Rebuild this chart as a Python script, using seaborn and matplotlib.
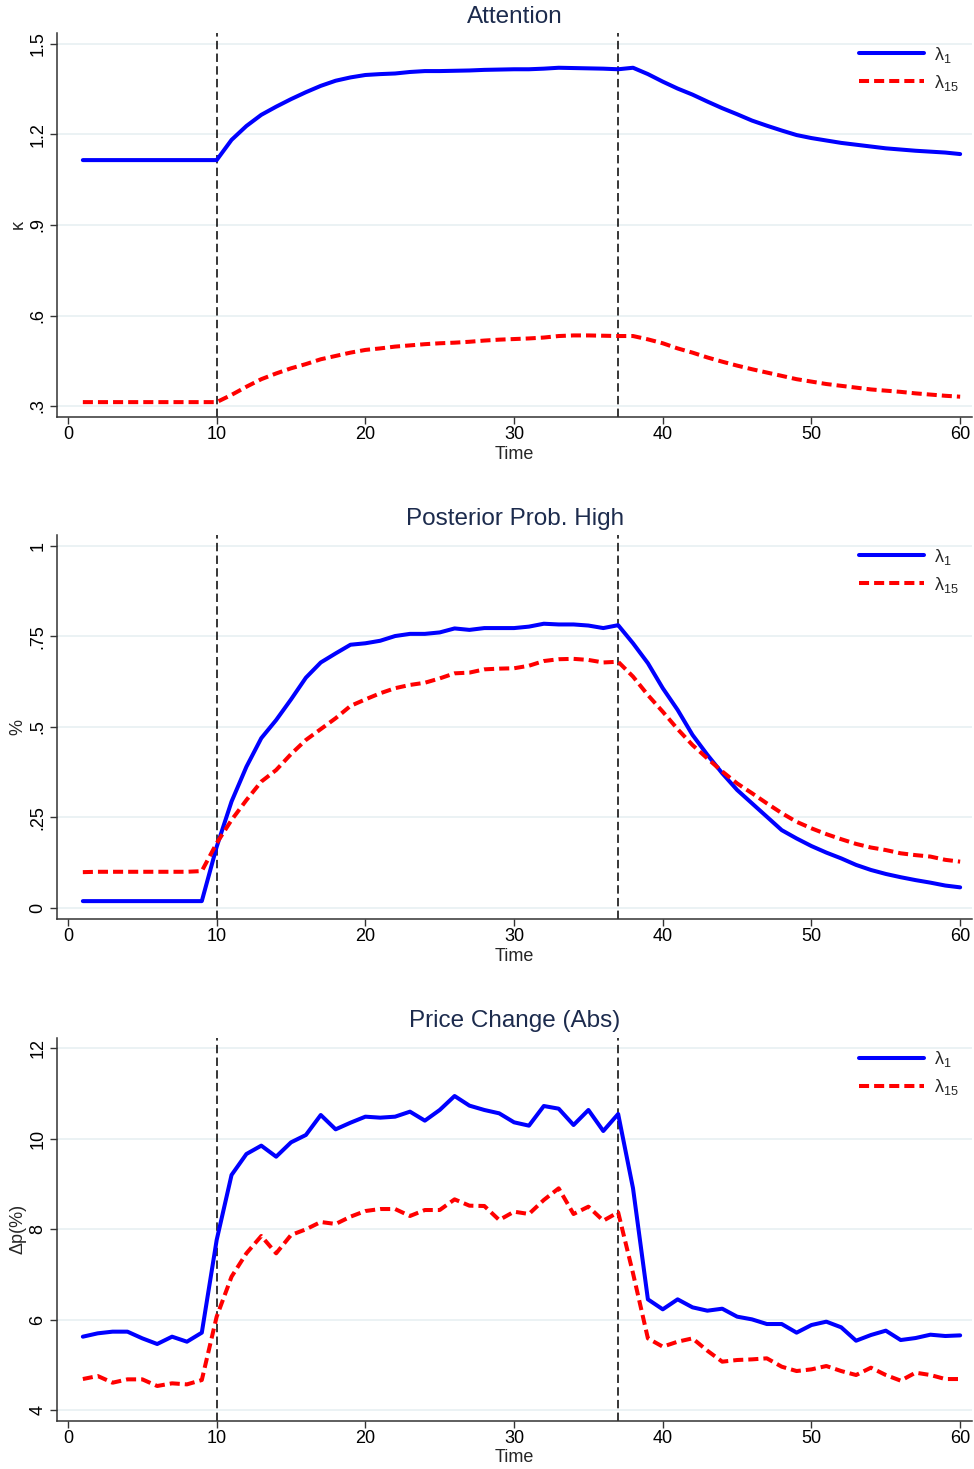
import matplotlib
matplotlib.use("Agg")
import matplotlib.pyplot as plt
import numpy as np
import pandas as pd
import seaborn as sns

# ---- data -------------------------------------------------------------
time = list(range(1, 61))
event_start = 10
event_end = 37

attention_l1 = [
    1.115, 1.115, 1.115, 1.115, 1.115, 1.115, 1.115, 1.115, 1.115, 1.115,
    1.182, 1.228, 1.265, 1.292, 1.317, 1.340, 1.361, 1.378, 1.389, 1.397,
    1.400, 1.402, 1.407, 1.410, 1.410, 1.411, 1.412, 1.414, 1.415, 1.416,
    1.416, 1.418, 1.421, 1.420, 1.419, 1.418, 1.416, 1.421, 1.400, 1.375,
    1.352, 1.332, 1.309, 1.287, 1.267, 1.246, 1.229, 1.213, 1.198, 1.188,
    1.180, 1.172, 1.166, 1.160, 1.154, 1.150, 1.146, 1.143, 1.140, 1.135,
]
attention_l15 = [
    0.313, 0.313, 0.313, 0.313, 0.313, 0.313, 0.313, 0.313, 0.313, 0.313,
    0.337, 0.364, 0.389, 0.408, 0.425, 0.439, 0.455, 0.466, 0.477, 0.486,
    0.491, 0.497, 0.501, 0.505, 0.508, 0.510, 0.513, 0.517, 0.520, 0.522,
    0.524, 0.527, 0.532, 0.534, 0.534, 0.533, 0.532, 0.532, 0.521, 0.508,
    0.491, 0.477, 0.461, 0.447, 0.434, 0.422, 0.411, 0.400, 0.389, 0.381,
    0.373, 0.367, 0.361, 0.355, 0.351, 0.347, 0.342, 0.338, 0.334, 0.331,
]
posterior_l1 = [
    0.019, 0.019, 0.019, 0.019, 0.019, 0.019, 0.019, 0.019, 0.019, 0.169,
    0.294, 0.390, 0.469, 0.519, 0.576, 0.636, 0.678, 0.703, 0.727, 0.731,
    0.738, 0.751, 0.757, 0.757, 0.761, 0.772, 0.768, 0.773, 0.773, 0.773,
    0.777, 0.785, 0.783, 0.783, 0.780, 0.773, 0.781, 0.731, 0.676, 0.607,
    0.547, 0.478, 0.423, 0.372, 0.326, 0.289, 0.252, 0.215, 0.192, 0.171,
    0.153, 0.137, 0.119, 0.105, 0.094, 0.085, 0.077, 0.070, 0.062, 0.057,
]
posterior_l15 = [
    0.099, 0.100, 0.100, 0.100, 0.100, 0.100, 0.100, 0.100, 0.102, 0.179,
    0.243, 0.298, 0.349, 0.381, 0.425, 0.464, 0.494, 0.524, 0.558, 0.576,
    0.593, 0.607, 0.616, 0.622, 0.634, 0.648, 0.650, 0.659, 0.661, 0.662,
    0.669, 0.682, 0.687, 0.688, 0.685, 0.678, 0.680, 0.639, 0.588, 0.542,
    0.494, 0.450, 0.413, 0.377, 0.344, 0.317, 0.289, 0.262, 0.238, 0.220,
    0.204, 0.190, 0.177, 0.167, 0.160, 0.151, 0.146, 0.142, 0.133, 0.128,
]
price_l1 = [
    5.621, 5.695, 5.732, 5.732, 5.584, 5.459, 5.621, 5.510, 5.710, 7.760,
    9.198, 9.662, 9.847, 9.603, 9.920, 10.083, 10.525, 10.208, 10.355, 10.488,
    10.466, 10.488, 10.599, 10.400, 10.636, 10.945, 10.732, 10.636, 10.562, 10.363,
    10.289, 10.724, 10.665, 10.304, 10.636, 10.171, 10.547, 8.903, 6.447, 6.226,
    6.447, 6.270, 6.196, 6.240, 6.064, 6.004, 5.901, 5.901, 5.710, 5.879,
    5.953, 5.828, 5.532, 5.658, 5.754, 5.547, 5.591, 5.665, 5.636, 5.650,
]
price_l15 = [
    4.684, 4.751, 4.603, 4.677, 4.677, 4.530, 4.589, 4.566, 4.662, 6.064,
    6.948, 7.465, 7.848, 7.465, 7.870, 7.996, 8.158, 8.114, 8.276, 8.401,
    8.445, 8.445, 8.291, 8.423, 8.423, 8.659, 8.519, 8.512, 8.202, 8.386,
    8.335, 8.645, 8.903, 8.335, 8.497, 8.187, 8.372, 7.022, 5.584, 5.400,
    5.510, 5.584, 5.311, 5.068, 5.105, 5.119, 5.142, 4.957, 4.861, 4.898,
    4.972, 4.861, 4.773, 4.935, 4.773, 4.648, 4.825, 4.773, 4.684, 4.684,
]

series_labels = [r"$\lambda_1$", r"$\lambda_{15}$"]
x_ticks = [0, 10, 20, 30, 40, 50, 60]

panels = [
    dict(title="Attention", ylabel="κ", l1=attention_l1, l15=attention_l15,
         yticks=[0.3, 0.6, 0.9, 1.2, 1.5], yticklabels=[".3", ".6", ".9", "1.2", "1.5"],
         ylim=(0.2645, 1.536)),
    dict(title="Posterior Prob. High", ylabel="%", l1=posterior_l1, l15=posterior_l15,
         yticks=[0, 0.25, 0.5, 0.75, 1], yticklabels=["0", ".25", ".5", ".75", "1"],
         ylim=(-0.0296, 1.030)),
    dict(title="Price Change (Abs)", ylabel="Δp(%)", l1=price_l1, l15=price_l15,
         yticks=[4, 6, 8, 10, 12], yticklabels=["4", "6", "8", "10", "12"],
         ylim=(3.763, 12.235)),
]

# ---- style ------------------------------------------------------------
sns.set_theme(style="white")
plt.rcParams["font.family"] = ["Liberation Sans", "DejaVu Sans"]
plt.rcParams["mathtext.fontset"] = "custom"
plt.rcParams["mathtext.rm"] = "Liberation Sans"
plt.rcParams["mathtext.it"] = "Liberation Sans"

BLUE = "#0000ff"
RED = "#ff0000"
GRID = "#e9f1f3"
TITLE = "#1c2b4d"
AXIS = "#333333"
RED_DASH = (2.5, 1.25)

fig = plt.figure(figsize=(9.74, 14.69), dpi=100)

# axes boxes in figure fractions [left, bottom, width, height]
boxes = [
    [0.0588, 0.7163, 0.9392, 0.2612],
    [0.0588, 0.3746, 0.9392, 0.2612],
    [0.0588, 0.0329, 0.9392, 0.2607],
]

for box, p in zip(boxes, panels):
    ax = fig.add_axes(box)
    df = pd.DataFrame({"Time": time, "l1": p["l1"], "l15": p["l15"]})

    for y in p["yticks"]:
        ax.axhline(y, color=GRID, lw=1.3, zorder=0)

    for xv in (event_start, event_end):
        ax.axvline(xv, color="black", lw=1.1, dashes=(5.5, 2.8), zorder=1)

    sns.lineplot(data=df, x="Time", y="l1", ax=ax, color=BLUE, lw=2.9,
                 label=series_labels[0], zorder=3)
    sns.lineplot(data=df, x="Time", y="l15", ax=ax, color=RED, lw=2.9,
                 label=series_labels[1], zorder=3)
    ax.lines[-1].set_dashes(RED_DASH)

    ax.set_xlim(-0.72, 60.8)
    ax.set_ylim(*p["ylim"])
    ax.set_xticks(x_ticks)
    ax.set_xticklabels([str(t) for t in x_ticks], fontsize=13)
    ax.set_yticks(p["yticks"])
    ax.set_yticklabels(p["yticklabels"], fontsize=13, rotation=90, va="center")

    ax.tick_params(axis="both", which="major", direction="out", length=5,
                   width=1.0, color=AXIS, labelcolor="black", bottom=True, left=True)
    ax.tick_params(axis="x", pad=2)
    ax.tick_params(axis="y", pad=3)

    for side in ("top", "right"):
        ax.spines[side].set_visible(False)
    for side in ("left", "bottom"):
        ax.spines[side].set_color(AXIS)
        ax.spines[side].set_linewidth(1.1)

    ax.set_xlabel("Time", fontsize=13, labelpad=1.5)
    ax.set_ylabel(p["ylabel"], fontsize=13, labelpad=2)
    ax.set_title(p["title"], fontsize=17.5, color=TITLE, pad=7.5)

    leg = ax.legend(loc="upper right", bbox_to_anchor=(0.985, 0.97), frameon=False,
                    fontsize=13, handlelength=3.6, handletextpad=0.55,
                    labelspacing=0.45, borderpad=0, borderaxespad=0)
    for h in leg.get_lines():
        h.set_linewidth(2.9)
    leg.get_lines()[1].set_dashes(RED_DASH)

fig.savefig("out.png", dpi=100, facecolor="white")
